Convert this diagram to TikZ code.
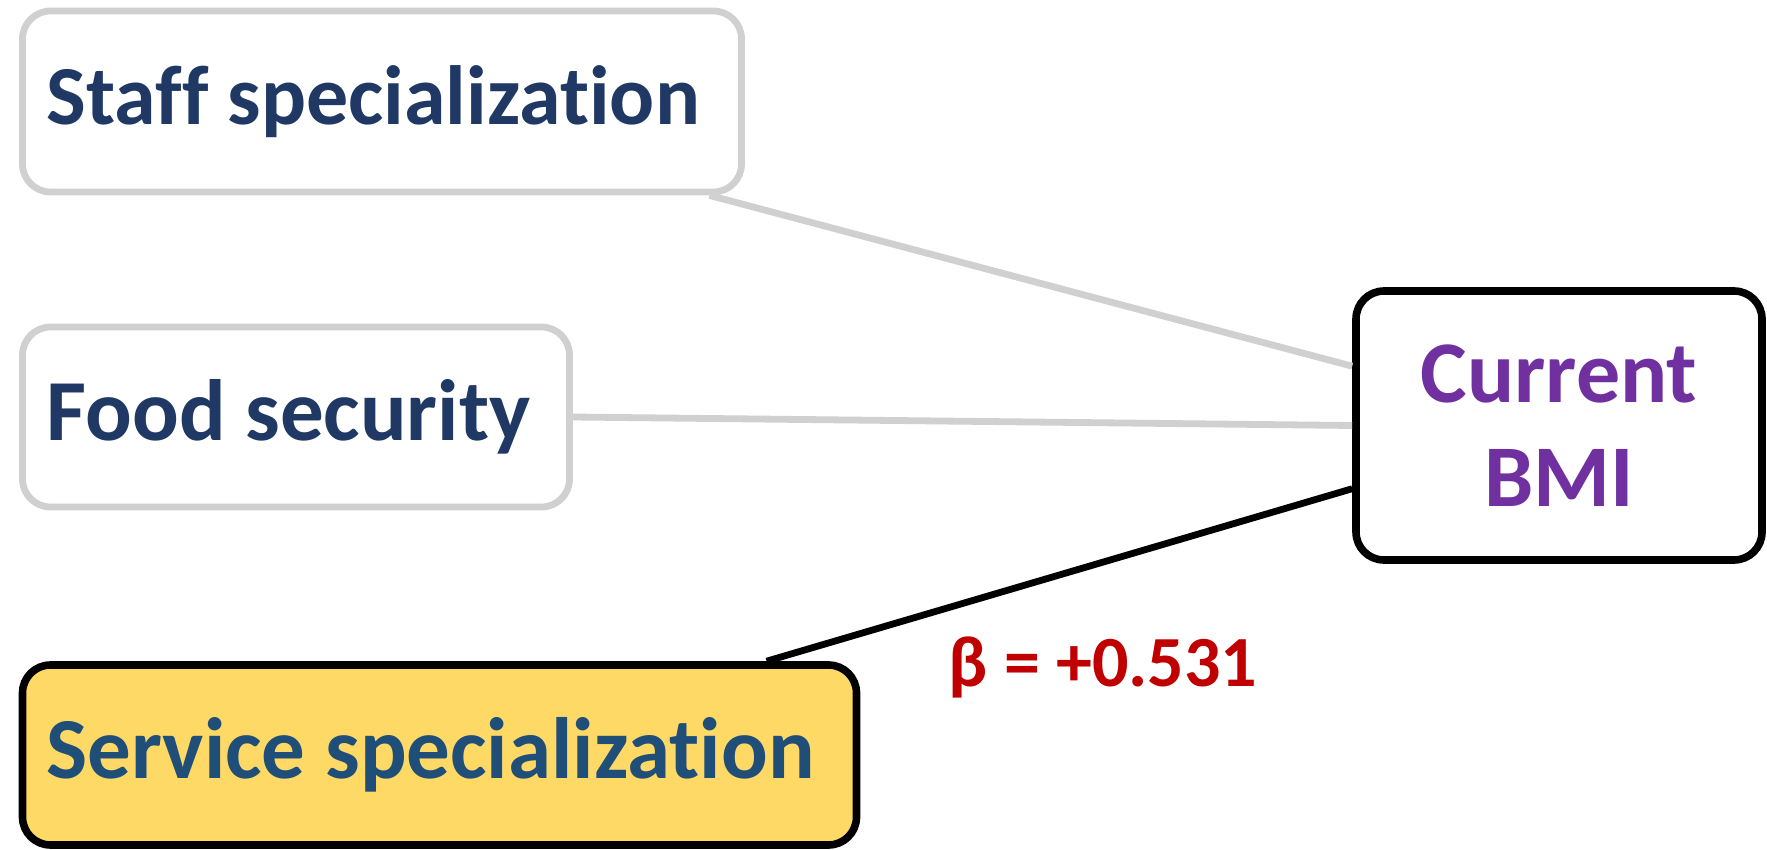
\documentclass[tikz,border=0pt]{standalone}
\usepackage{fontspec}
\setmainfont{Carlito}[Ligatures={NoCommon}]
\definecolor{navy}{HTML}{1F3864}
\definecolor{steelnavy}{HTML}{1F4E79}
\definecolor{bmipurple}{HTML}{7030A0}
\definecolor{betared}{HTML}{C00000}
\definecolor{boxgray}{HTML}{D0D0D0}
\definecolor{boxyellow}{HTML}{FFD966}
\begin{document}
\begin{tikzpicture}[x=0.5pt,y=-0.5pt,
    factor/.style={draw=boxgray, line width=3.4pt, rounded corners=14pt, fill=white, align=flush left, inner xsep=12pt, font=\fontsize{42}{50}\selectfont\bfseries, text=navy},
    keyfactor/.style={factor, draw=black, line width=3.8pt, fill=boxyellow, text=steelnavy, font=\fontsize{43.5}{52}\selectfont\bfseries},
    outcome/.style={draw=black, line width=3.8pt, rounded corners=14pt, fill=white, align=center, font=\fontsize{44}{52}\selectfont\bfseries, text=bmipurple, minimum width=203pt, minimum height=134.5pt},
    weak/.style={draw=boxgray, line width=3.4pt},
    strong/.style={draw=black, line width=3.4pt}]
    \useasboundingbox (0,0) rectangle (1767,850);

    \node[factor, text width=335.5pt, minimum height=90.5pt] (staff) at (382,101.5) {Staff specialization};
    \node[factor, text width=249.5pt, minimum height=90pt, font=\fontsize{43.5}{52}\selectfont\bfseries] (food) at (296,417) {Food security};
    \node[keyfactor, text width=393pt, minimum height=90pt] (service) at (439.5,755) {Service specialization};
    \node[outcome] (bmi) at (1559,425.5) {Current\\BMI};

    \draw[weak] (staff.-16.5) to (bmi.164); \draw[weak] (food.east) to (bmi.west);
    \draw[strong] (service.16.5) to (bmi.197);
    \node[font=\fontsize{36}{43}\selectfont\bfseries, text=betared] (beta) at (1103,667) {β = +0.531};
\end{tikzpicture}
\end{document}
